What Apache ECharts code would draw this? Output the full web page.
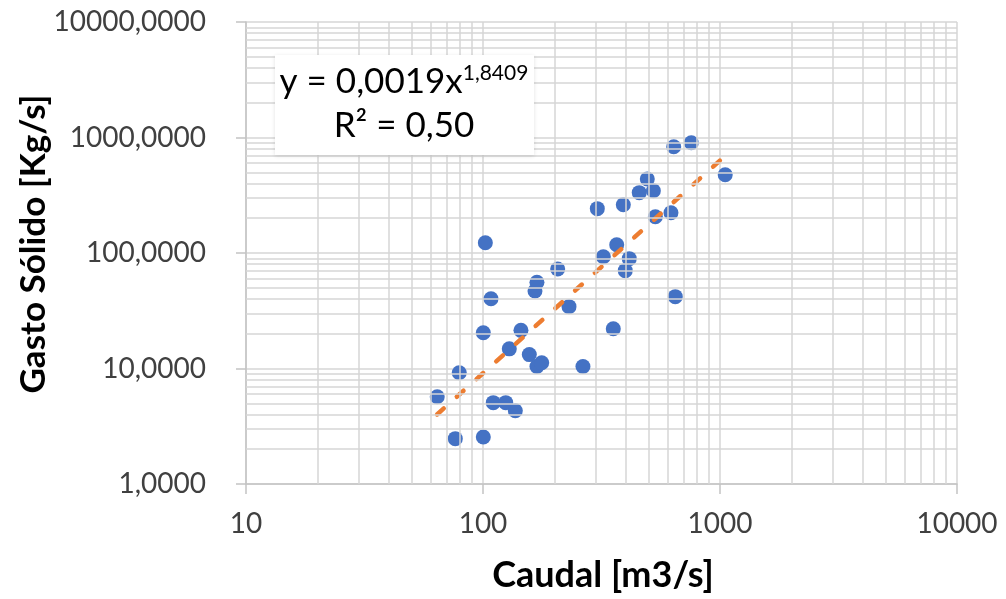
<!DOCTYPE html>
<html>
<head>
<meta charset="utf-8">
<script src="https://cdn.jsdelivr.net/npm/echarts@6/dist/echarts.min.js"></script>
<style>
html,body{margin:0;padding:0;background:#fff;}
#chart{width:1006px;height:599px;}
</style>
</head>
<body>
<div id="chart"></div>
<script>
// Data
const caudal = [64.1, 79.4, 76.4, 100.3, 102.3, 100.3, 108.1, 110.5, 124.7, 136.9, 129.1, 144.6, 156.8, 165.7, 168.9, 168.9, 176.9, 206.6, 230.6, 264.1, 303.6, 321.9, 354.6, 366.6, 390.9, 398.3, 414.1, 456.3, 493.4, 523.4, 533.6, 621, 637.9, 647.6, 756.6, 1052];
const gasto = [5.70, 9.20, 2.47, 2.55, 122.8, 20.4, 40.2, 5.06, 5.06, 4.31, 14.8, 21.4, 13.2, 46.9, 55.7, 10.4, 11.2, 72.7, 34.3, 10.4, 242, 92.9, 22.1, 118, 262, 70.3, 89.3, 333, 437, 346, 206, 223, 832, 41.9, 901, 476];
// Power trendline y = 0,0019 x^1,8409, endpoints over the data range
const trendX = [64, 1050];
const trendY = [4.0, 692];
// Axis ranges and minor grid values
const xTicks = [10, 100, 1000, 10000];
const yTicks = [1, 10, 100, 1000, 10000];
const minorX = [20,30,40,50,60,70,80,90,200,300,400,500,600,700,800,900,2000,3000,4000,5000,6000,7000,8000,9000];
const minorY = [2,3,4,5,6,7,8,9,20,30,40,50,60,70,80,90,200,300,400,500,600,700,800,900,2000,3000,4000,5000,6000,7000,8000,9000];
const eqLine1 = 'y = 0,0019x';
const eqExp = '1,8409';
const eqLine2 = 'R² = 0,50';
const xTitle = 'Caudal [m3/s]';
const yTitle = 'Gasto Sólido [Kg/s]';

const FONT = 'Lato, "Open Sans", sans-serif';
const GRID_COLOR = '#d6d6d6';

const chart = echarts.init(document.getElementById('chart'), null, {renderer: 'canvas'});

const minorLines = minorX.map(v => ({xAxis: v})).concat(minorY.map(v => ({yAxis: v})));

chart.setOption({
  animation: false,
  backgroundColor: '#ffffff',
  grid: {left: 246, right: 49, top: 22, bottom: 115, containLabel: false},
  xAxis: {
    type: 'log', logBase: 10, min: xTicks[0], max: xTicks[xTicks.length - 1],
    axisLine: {show: true, lineStyle: {color: '#c4c4c4', width: 1.5}},
    axisTick: {show: true, length: 10, inside: false, lineStyle: {color: '#c4c4c4', width: 1.5}},
    splitLine: {show: true, lineStyle: {color: GRID_COLOR, width: 1.5}},
    axisLabel: {color: '#404040', fontFamily: FONT, fontSize: 28, margin: 26,
      formatter: v => String(Math.round(v))}
  },
  yAxis: {
    type: 'log', logBase: 10, min: yTicks[0], max: yTicks[yTicks.length - 1],
    axisLine: {show: true, lineStyle: {color: '#c4c4c4', width: 1.5}},
    axisTick: {show: true, length: 10, inside: false, lineStyle: {color: '#c4c4c4', width: 1.5}},
    splitLine: {show: true, lineStyle: {color: GRID_COLOR, width: 1.5}},
    axisLabel: {color: '#404040', fontFamily: FONT, fontSize: 28, margin: 40,
      formatter: v => Math.round(v).toFixed(4).replace('.', ',')}
  },
  series: [
    {
      type: 'line', data: [], z: 1, silent: true,
      markLine: {
        silent: true, symbol: ['none', 'none'], animation: false,
        label: {show: false},
        lineStyle: {type: 'solid', color: GRID_COLOR, width: 1.5},
        data: minorLines
      }
    },
    {
      type: 'scatter', z: 3,
      symbol: 'circle', symbolSize: 15,
      itemStyle: {color: '#4472C4', opacity: 1},
      data: caudal.map((x, i) => [x, gasto[i]])
    },
    {
      type: 'line', z: 4, symbol: 'none', silent: true,
      lineStyle: {color: '#ED7D31', width: 4.5, type: [9, 17.5], cap: 'round'},
      data: trendX.map((x, i) => [x, trendY[i]])
    }
  ],
  graphic: [
    {
      type: 'rect', z: 50, shape: {x: 275, y: 55, width: 259, height: 100},
      style: {fill: '#ffffff', shadowBlur: 4, shadowColor: 'rgba(0,0,0,0.12)', shadowOffsetY: 1}
    },
    {
      type: 'text', z: 51, x: 404, y: 82,
      style: {
        text: eqLine1 + '{sup|' + eqExp + '}',
        fontFamily: FONT, fontSize: 35, fill: '#000', align: 'center', verticalAlign: 'middle',
        rich: {sup: {fontSize: 21, fontFamily: FONT, fill: '#000', verticalAlign: 'top', lineHeight: 38, padding: [0, 0, 16, 0]}}
      }
    },
    {
      type: 'text', z: 51, x: 404, y: 126,
      style: {text: eqLine2, fontFamily: FONT, fontSize: 35, fill: '#000', align: 'center', verticalAlign: 'middle'}
    },
    {
      type: 'text', z: 51, x: 603, y: 575,
      style: {text: xTitle, fontFamily: FONT, fontWeight: 'bold', fontSize: 36, fill: '#000', align: 'center', verticalAlign: 'middle'}
    },
    {
      type: 'text', z: 51, x: 34, y: 244, rotation: Math.PI / 2,
      style: {text: yTitle, fontFamily: FONT, fontWeight: 'bold', fontSize: 35, fill: '#000', align: 'center', verticalAlign: 'middle'}
    }
  ]
});
</script>
</body>
</html>
